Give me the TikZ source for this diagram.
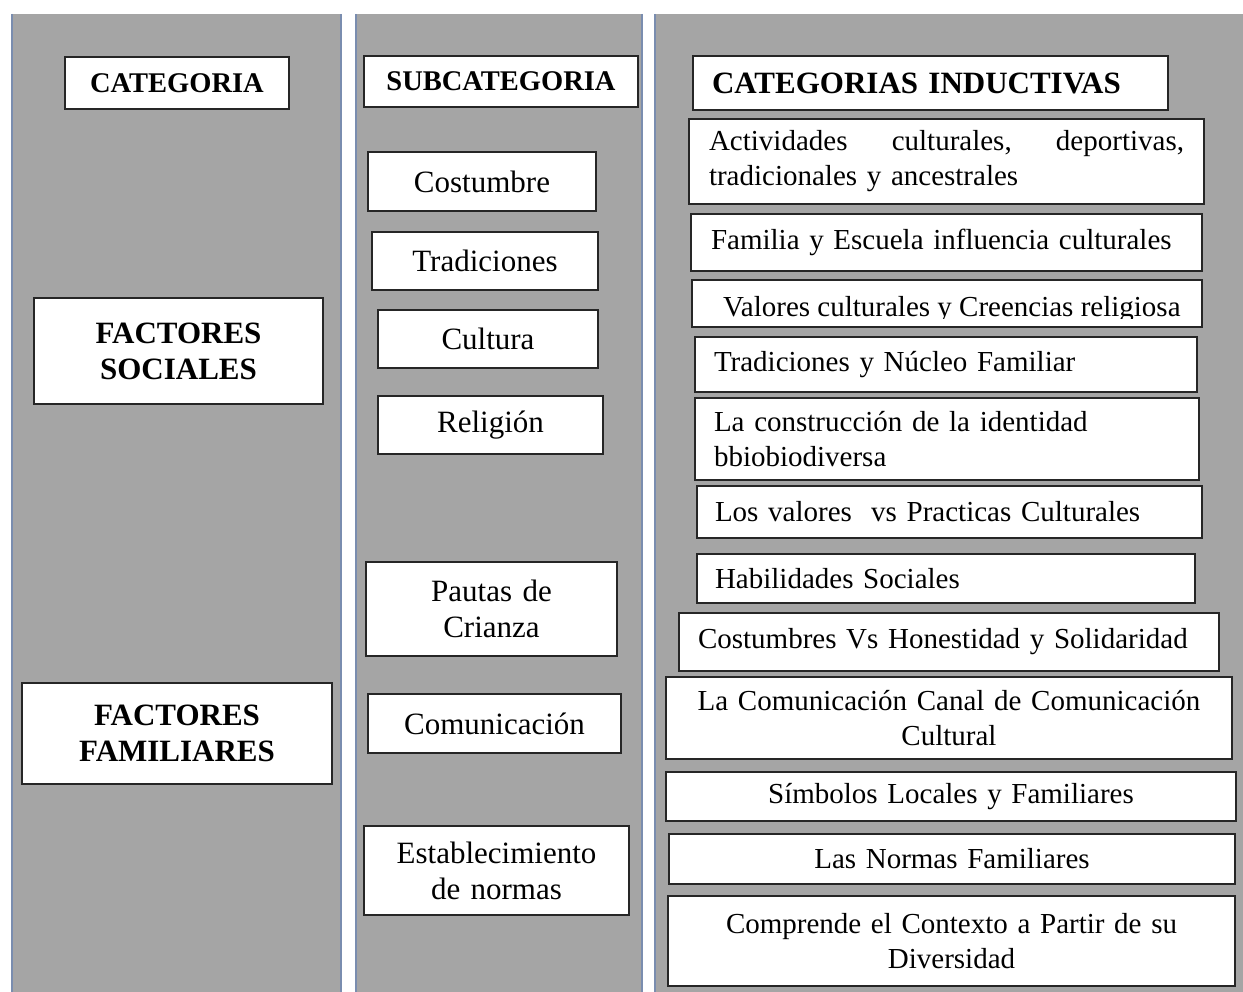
\documentclass[tikz,border=0pt]{standalone}
\usepackage{fontspec}
\setmainfont{Liberation Serif}
\definecolor{colgray}{HTML}{A5A5A5}
\definecolor{colline}{HTML}{7A8DAF}
\newcommand\bodyfont{\fontsize{29}{35}\selectfont}
\newcommand\subfont{\fontsize{31}{36}\selectfont}
\newcommand\headfont{\bfseries\fontsize{28.5}{34}\selectfont}
\newcommand\bigheadfont{\bfseries\fontsize{31}{36}\selectfont}
\begin{document}
\begin{tikzpicture}[x=1pt,y=-1pt,
  box/.style={draw=black!85, line width=1.5pt, fill=white, inner ysep=0pt, anchor=center},
  lbox/.style={box, align=left, font=\bodyfont},
  cbox/.style={box, align=center, inner xsep=8pt},
  colfill/.style={fill=colgray},
  colrule/.style={draw=colline, line width=2.2pt}]
\useasboundingbox (0,0) rectangle (1243,992);
\clip (0,0) rectangle (1243,992);
% columns
\fill[colfill] (12,14) rectangle (341,1000);
\fill[colfill] (356,14) rectangle (642,1000);
\fill[colfill] (655,14) rectangle (1250,1000);
\draw[colrule] (12,14) -- (12,1000);
\draw[colrule] (341,14) -- (341,1000);
\draw[colrule] (356,14) -- (356,1000);
\draw[colrule] (642,14) -- (642,1000);
\draw[colrule] (655,14) -- (655,1000);
% column 1
\node[cbox, font=\headfont, minimum width=224pt, minimum height=52pt, text width=208pt] (cat) at (177,83) {CATEGORIA};
\node[cbox, font=\bigheadfont, minimum width=289pt, minimum height=106pt, text width=273pt] (fs) at (178.5,351) {FACTORES\\SOCIALES};
\node[cbox, font=\bigheadfont, minimum width=310pt, minimum height=101pt, text width=294pt] (ff) at (177,733.5) {FACTORES\\FAMILIARES};
% column 2
\node[cbox, font=\headfont, minimum width=274pt, minimum height=51pt, text width=258pt] (sub) at (501,81.5) {SUBCATEGORIA};
\node[cbox, font=\subfont, minimum width=228pt, minimum height=59pt, text width=212pt] (s1) at (482,181.5) {Costumbre};
\node[cbox, font=\subfont, minimum width=226pt, minimum height=58pt, text width=210pt] (s2) at (485,261) {Tradiciones};
\node[cbox, font=\subfont, minimum width=220pt, minimum height=58pt, text width=204pt] (s3) at (488,339) {Cultura};
\node[cbox, font=\subfont, minimum width=225pt, minimum height=58pt, text width=209pt] (s4) at (490.5,425) {Religión};
\node[cbox, font=\subfont, minimum width=251pt, minimum height=94pt, text width=235pt] (s5) at (491.5,609) {Pautas de\\Crianza};
\node[cbox, font=\subfont, minimum width=253pt, minimum height=59pt, text width=237pt] (s6) at (494.5,723.5) {Comunicación};
\node[cbox, font=\subfont, minimum width=265pt, minimum height=89pt, text width=249pt] (s7) at (496.5,870.5) {Establecimiento\\de normas};
% column 3
\node[box, align=left, font=\bigheadfont, inner xsep=19pt, minimum width=475pt, minimum height=54pt, text width=437pt] (ci) at (930.5,83) {CATEGORIAS INDUCTIVAS};
\node[lbox, inner xsep=20pt, minimum width=515pt, minimum height=85pt, text width=475pt] (i1) at (946.5,161.5) {Actividades\hfill culturales,\hfill deportivas,\\tradicionales y ancestrales};
\node[lbox, inner xsep=20pt, minimum width=511pt, minimum height=57pt, text width=471pt] (i2) at (946.5,242.5) {Familia y Escuela influencia culturales};
\node[box, minimum width=510pt, minimum height=47pt] (i3) at (947,303.5) {};
\begin{scope}
\clip (692,280) rectangle (1202,318.5);
\node[font=\bodyfont, anchor=base west, inner sep=0pt] (i3t) at (723,317) {Valores culturales y Creencias religiosa};
\end{scope}
\node[lbox, inner xsep=19pt, minimum width=502pt, minimum height=55pt, text width=464pt] (i4) at (946,364.5) {Tradiciones y Núcleo Familiar};
\node[lbox, inner xsep=19pt, minimum width=504pt, minimum height=82pt, text width=466pt] (i5) at (947,439) {La construcción de la identidad\\bbiobiodiversa};
\node[lbox, inner xsep=18pt, minimum width=505pt, minimum height=52pt, text width=469pt] (i6) at (949.5,512) {Los valores\ \ vs Practicas Culturales};
\node[lbox, inner xsep=18pt, minimum width=498pt, minimum height=49pt, text width=462pt] (i7) at (946,578.5) {Habilidades Sociales};
\node[lbox, inner xsep=19pt, minimum width=540pt, minimum height=58pt, text width=502pt] (i8) at (949,642) {Costumbres Vs Honestidad y Solidaridad};
\node[cbox, font=\bodyfont, minimum width=566pt, minimum height=82pt, text width=550pt] (i9) at (949,718) {La Comunicación Canal de Comunicación\\Cultural};
\node[cbox, font=\bodyfont, minimum width=570pt, minimum height=49pt, text width=554pt] (i10) at (951,796.5) {Símbolos Locales y Familiares};
\node[cbox, font=\bodyfont, minimum width=566pt, minimum height=50pt, text width=550pt] (i11) at (952,859) {Las Normas Familiares};
\node[cbox, font=\bodyfont, minimum width=567pt, minimum height=90pt, text width=551pt] (i12) at (951.5,941) {Comprende el Contexto a Partir de su\\Diversidad};
\end{tikzpicture}
\end{document}
